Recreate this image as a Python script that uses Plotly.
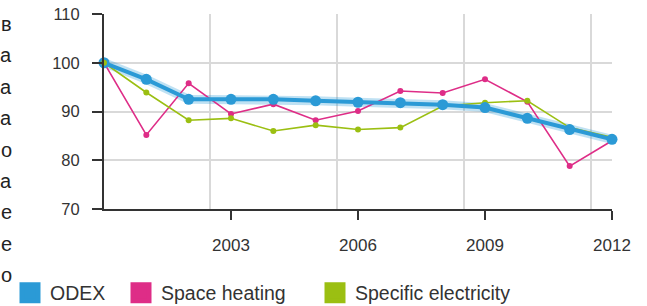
import plotly.graph_objects as go

years = list(range(2000, 2013))
odex = [100, 96.6, 92.5, 92.5, 92.5, 92.2, 91.9, 91.8, 91.4, 90.8, 88.6, 86.3, 84.3]
space_heating = [100, 85.2, 95.8, 89.5, 91.5, 88.2, 90.1, 94.2, 93.8, 96.6, 92.0, 78.8, 84.0]
specific_electricity = [100, 93.9, 88.2, 88.6, 86.0, 87.2, 86.3, 86.7, 91.1, 91.8, 92.2, 86.7, 84.7]

x_ticks = [2003, 2006, 2009, 2012]
y_ticks = [70, 80, 90, 100, 110]
grid_x = [2002.5, 2005.5, 2008.5, 2011.5]
side_letters = ["в", "а", "а", "а", "о", "а", "е", "е", "о"]

BLUE = "#2b9ad6"
PINK = "#de2d87"
GREEN = "#9bbf12"
FONT = "Liberation Sans, Arial, sans-serif"
TXT = "#333333"

W, H = 647, 306
L, R, T, B = 104, 35, 14, 97
pw, ph = W - L - R, H - T - B

fig = go.Figure()

# halo under ODEX
fig.add_trace(go.Scatter(x=years, y=odex, mode="lines", showlegend=False,
                         line=dict(color="rgba(43,154,214,0.30)", width=9),
                         hoverinfo="skip", cliponaxis=False))
fig.add_trace(go.Scatter(x=years, y=space_heating, mode="lines+markers", name="Space heating",
                         showlegend=False, line=dict(color=PINK, width=1.6),
                         marker=dict(color=PINK, size=6), cliponaxis=False))
fig.add_trace(go.Scatter(x=years, y=specific_electricity, mode="lines+markers", name="Specific electricity",
                         showlegend=False, line=dict(color=GREEN, width=1.6),
                         marker=dict(color=GREEN, size=6), cliponaxis=False))
fig.add_trace(go.Scatter(x=years, y=odex, mode="lines+markers", name="ODEX",
                         showlegend=False, line=dict(color=BLUE, width=4),
                         marker=dict(color=BLUE, size=11), cliponaxis=False))
fig.add_trace(go.Scatter(x=years[:1], y=specific_electricity[:1], mode="markers", showlegend=False,
                         marker=dict(color=GREEN, size=6), cliponaxis=False, hoverinfo="skip"))

# legend entries, each in its own legend box so the spacing can match
legend_items = [("ODEX", BLUE, "legend", 10), ("Space heating", PINK, "legend2", 121),
                ("Specific electricity", GREEN, "legend3", 315)]
legend_layout = {}
for name, col, lg, px in legend_items:
    fig.add_trace(go.Scatter(x=[None], y=[None], mode="markers", name=name, legend=lg,
                             marker=dict(symbol="square", color=col, size=16,
                                         line=dict(color=col, width=5))))
    legend_layout[lg] = dict(orientation="h", x=(px - L) / pw, xanchor="left",
                             y=(H - B - 273.5) / ph, yanchor="top",
                             font=dict(family=FONT, size=19.5, color=TXT),
                             itemwidth=30, bgcolor="rgba(0,0,0,0)")

for i, ch in enumerate(side_letters):
    py = 24 + i * 31.4
    fig.add_annotation(x=(14 - L) / pw, y=(H - B - py) / ph, xref="paper", yref="paper",
                       text=ch, showarrow=False, xanchor="right", yanchor="middle",
                       font=dict(family=FONT, size=20, color="#222222"))

fig.update_layout(
    width=W, height=H,
    margin=dict(l=L, r=R, t=T, b=B, autoexpand=False),
    paper_bgcolor="white", plot_bgcolor="white",
    font=dict(family=FONT, color=TXT),
    showlegend=True,
    **legend_layout,
)

fig.update_xaxes(range=[2000, 2012], tickmode="array", tickvals=x_ticks,
                 ticktext=[str(v) for v in x_ticks],
                 showgrid=False, zeroline=False,
                 showline=True, linecolor="#333333", linewidth=2,
                 ticks="outside", ticklen=9, tickwidth=2, tickcolor="#333333",
                 ticklabelstandoff=11,
                 tickfont=dict(family=FONT, size=17, color=TXT),
                 minor=dict(tickmode="array", tickvals=grid_x, showgrid=True,
                            gridcolor="#d9d9d9", gridwidth=1.5, ticks=""))
fig.update_yaxes(range=[70, 110], tickmode="array", tickvals=y_ticks,
                 showgrid=True, gridcolor="#d9d9d9", gridwidth=1.5, zeroline=False,
                 showline=True, linecolor="#333333", linewidth=2,
                 ticks="outside", ticklen=10, tickwidth=2, tickcolor="#333333",
                 ticklabelstandoff=9,
                 tickfont=dict(family=FONT, size=16.5, color=TXT))

fig.write_html("out.html", config={"displayModeBar": False},
               post_script="document.body.style.margin='0';document.body.style.overflow='hidden';")
